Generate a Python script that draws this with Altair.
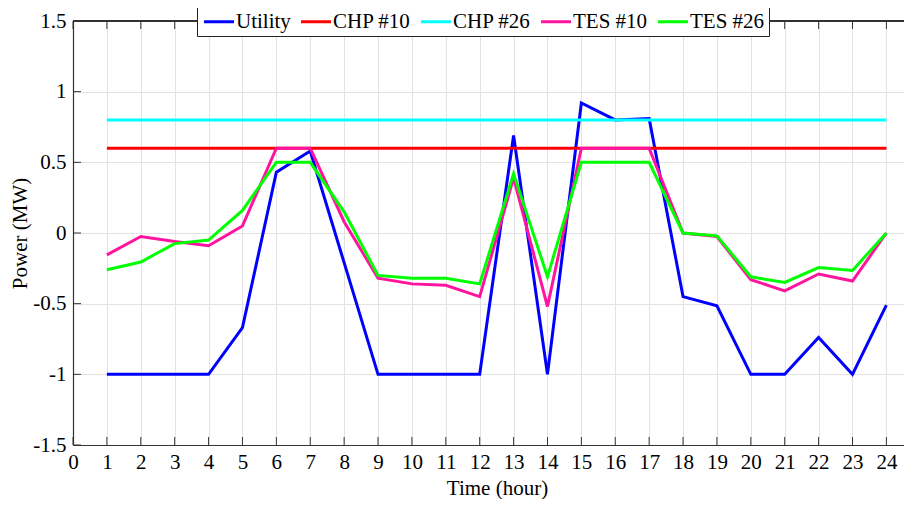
import altair as alt
import pandas as pd

hours = list(range(1, 25))
series_names = ["Utility", "CHP #10", "CHP #26", "TES #10", "TES #26"]
series_colors = ["#0000ff", "#ff0000", "#00ffff", "#ff14a0", "#00ff00"]

utility = [-1.0, -1.0, -1.0, -1.0, -0.67, 0.43, 0.58, -0.21, -1.0, -1.0, -1.0, -1.0,
           0.69, -1.0, 0.92, 0.80, 0.81, -0.45, -0.515, -1.0, -1.0, -0.74, -1.0, -0.51]
chp10 = [0.6] * 24
chp26 = [0.8] * 24
tes10 = [-0.155, -0.025, -0.06, -0.09, 0.05, 0.6, 0.6, 0.08, -0.32, -0.36, -0.37, -0.45,
         0.39, -0.52, 0.6, 0.6, 0.6, 0.0, -0.025, -0.33, -0.41, -0.29, -0.34, 0.0]
tes26 = [-0.26, -0.205, -0.075, -0.05, 0.16, 0.5, 0.5, 0.15, -0.30, -0.32, -0.32, -0.36,
         0.42, -0.31, 0.5, 0.5, 0.5, 0.0, -0.02, -0.31, -0.35, -0.245, -0.265, 0.0]

x_ticks = list(range(0, 25))
y_ticks = [-1.5, -1.0, -0.5, 0.0, 0.5, 1.0, 1.5]

W, H = 831, 424
FONT = "Liberation Serif"
FS = 21

rows = []
for i, (name, vals) in enumerate(zip(series_names, [utility, chp10, chp26, tes10, tes26])):
    for h, v in zip(hours, vals):
        rows.append({"Hour": h, "Power": v, "Series": name, "order": i})
df = pd.DataFrame(rows)

xscale = alt.Scale(domain=[0, 24.52], nice=False, zero=False)
yscale = alt.Scale(domain=[-1.5, 1.5], nice=False, zero=False)

axis_common = dict(
    ticks=False, grid=True, gridColor="#e3e3e3", gridWidth=1,
    domainColor="#333333", domainWidth=1.2,
    labelFont=FONT, labelFontSize=FS, labelColor="black",
    titleFont=FONT, titleFontSize=FS, titleFontWeight="normal", titleColor="black",
    labelOverlap=False, labelFlush=False,
)
x_axis = alt.Axis(values=x_ticks, title="Time (hour)", format="d",
                  labelPadding=6, titlePadding=5, titleX=424, **axis_common)
y_axis = alt.Axis(values=y_ticks, title="Power (MW)",
                  labelExpr="toString(datum.value)",
                  labelPadding=7, titlePadding=2, **axis_common)

lines = alt.Chart(df).mark_line(strokeWidth=3).encode(
    x=alt.X("Hour:Q", scale=xscale, axis=x_axis),
    y=alt.Y("Power:Q", scale=yscale, axis=y_axis),
    color=alt.Color("Series:N", scale=alt.Scale(domain=series_names, range=series_colors),
                    sort=series_names,
                    legend=alt.Legend(title=None, orient="none", direction="horizontal",
                                      legendX=124, legendY=-14, columns=5,
                                      symbolType="M-1,0H3", symbolSize=225, symbolStrokeWidth=3,
                                      labelFont=FONT, labelFontSize=FS, labelColor="black",
                                      labelOffset=14, columnPadding=4, padding=4,
                                      strokeColor="#222222", fillColor="white",
                                      labelLimit=300)),
    order=alt.Order("order:Q"),
    detail="Series:N",
)

xt_df = pd.DataFrame({"Hour": x_ticks})
yt_df = pd.DataFrame({"Power": y_ticks})

xt_bottom = alt.Chart(xt_df).mark_rule(color="#333333", strokeWidth=1).encode(
    x=alt.X("Hour:Q", scale=xscale, axis=x_axis), y=alt.value(H), y2=alt.value(H - 8))
xt_top = alt.Chart(xt_df).mark_rule(color="#333333", strokeWidth=1).encode(
    x=alt.X("Hour:Q", scale=xscale, axis=x_axis), y=alt.value(0), y2=alt.value(8))
yt_left = alt.Chart(yt_df).mark_rule(color="#333333", strokeWidth=1).encode(
    y=alt.Y("Power:Q", scale=yscale, axis=y_axis), x=alt.value(0), x2=alt.value(8))
top_line = alt.Chart(xt_df).mark_rule(color="#333333", strokeWidth=1.2).encode(
    x=alt.value(0), x2=alt.value(W), y=alt.value(0))

chart = alt.layer(lines, xt_bottom, xt_top, yt_left, top_line).properties(
    width=W, height=H,
    autosize=alt.AutoSizeParams(type="none"),
    padding={"left": 65, "top": 13, "right": 0, "bottom": 54},
).configure_view(stroke=None)

chart.save("out.html", embed_options={"renderer": "svg", "actions": False})
